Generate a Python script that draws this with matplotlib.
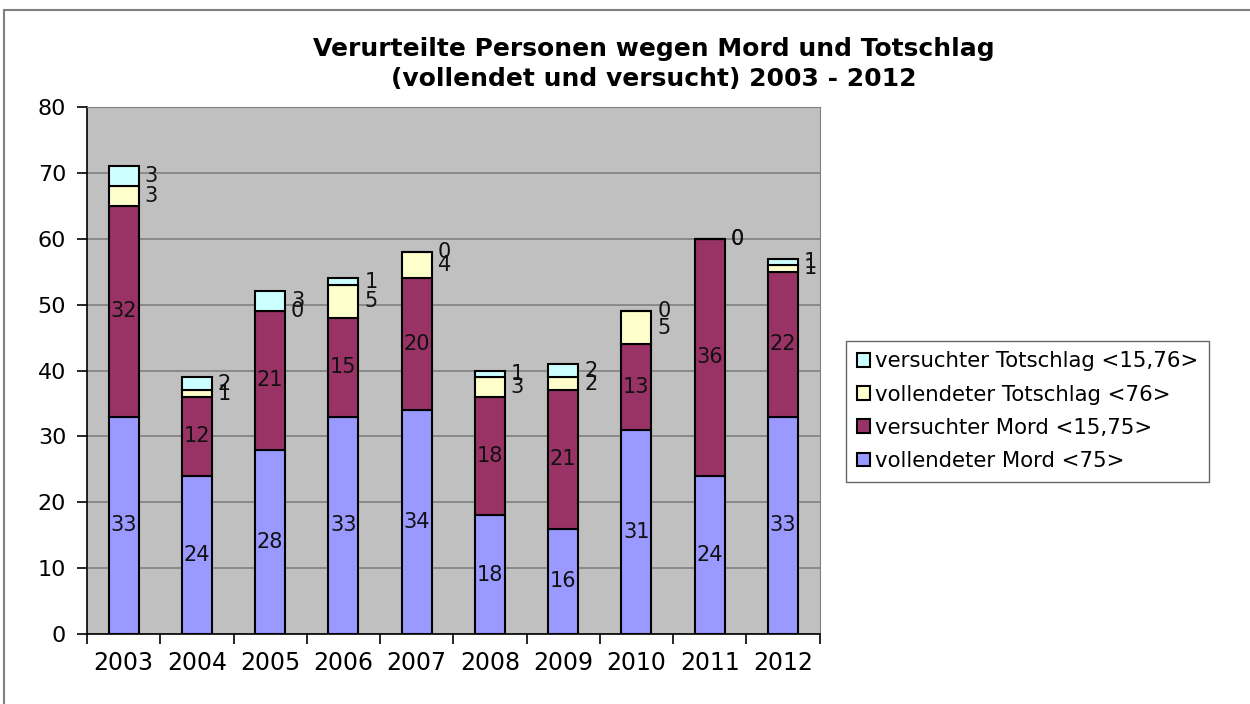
import numpy as np
import matplotlib
matplotlib.use("Agg")
import matplotlib.pyplot as plt
from matplotlib.patches import Rectangle

plt.rcParams['font.family'] = ['DejaVu Sans']

years = ['2003', '2004', '2005', '2006', '2007', '2008', '2009', '2010', '2011', '2012']
vollendeter_mord = [33, 24, 28, 33, 34, 18, 16, 31, 24, 33]
versuchter_mord = [32, 12, 21, 15, 20, 18, 21, 13, 36, 22]
vollendeter_totschlag = [3, 1, 0, 5, 4, 3, 2, 5, 0, 1]
versuchter_totschlag = [3, 2, 3, 1, 0, 1, 2, 0, 0, 1]

series = [
    (vollendeter_mord, 'vollendeter Mord <75>', '#9999FF'),
    (versuchter_mord, 'versuchter Mord <15,75>', '#993366'),
    (vollendeter_totschlag, 'vollendeter Totschlag <76>', '#FFFFCC'),
    (versuchter_totschlag, 'versuchter Totschlag <15,76>', '#CCFFFF'),
]

fig = plt.figure(figsize=(12.5, 7.04), dpi=100, facecolor='white')
ax = fig.add_axes([0.0696, 0.0994, 0.586, 0.7486])
ax.set_facecolor('#C0C0C0')

x = np.arange(len(years))
width = 0.41
bottom = np.zeros(len(years))
handles = []
for i, (vals, label, color) in enumerate(series):
    vals = np.array(vals, dtype=float)
    bars = ax.bar(x, vals, width, bottom=bottom, color=color, edgecolor='black',
                  linewidth=1.5, label=label, zorder=3)
    handles.append(bars)
    # lower two segments labelled inside, upper two to the right of the bar
    for xi, b, v in zip(x, bottom, vals):
        if i < 2:
            ax.text(xi, b + v / 2, '%d' % v, ha='center', va='center',
                    fontsize=15, color='#111111', zorder=4)
        else:
            ax.text(xi + width / 2 + 0.08, b + v / 2, '%d' % v, ha='left',
                    va='center', fontsize=15, color='#111111', zorder=4)
    bottom = bottom + vals

ax.set_xlim(-0.5, len(years) - 0.5)
ax.set_ylim(0, 80)
ax.set_yticks(np.arange(0, 81, 10))
ax.yaxis.grid(True, color='#808080', linewidth=1.2, zorder=0)
ax.set_axisbelow(True)

ax.set_xticks(x)
ax.set_xticklabels(years)
ax.set_xticks(np.arange(-0.5, len(years), 1.0), minor=True)
ax.tick_params(axis='x', which='major', length=0, labelsize=17, pad=12)
ax.tick_params(axis='x', which='minor', length=7, width=1.2, direction='out')
ax.tick_params(axis='y', length=7, width=1.2, direction='out', labelsize=16, pad=8)

ax.spines['top'].set_color('#808080')
ax.spines['right'].set_color('#808080')
ax.spines['left'].set_linewidth(1.2)
ax.spines['bottom'].set_linewidth(1.2)

fig.text(0.523, 0.93, 'Verurteilte Personen wegen Mord und Totschlag',
         ha='center', va='center', fontsize=18, fontweight='bold')
fig.text(0.523, 0.888, '(vollendet und versucht) 2003 - 2012',
         ha='center', va='center', fontsize=18, fontweight='bold')

leg = fig.legend(handles[::-1], [s[1] for s in series][::-1],
                 loc='center left', bbox_to_anchor=(0.677, 0.416),
                 fontsize=15.3, frameon=True, fancybox=False, edgecolor='#404040',
                 handlelength=0.6, handleheight=0.6, handletextpad=0.25,
                 labelspacing=0.62, borderpad=0.5, borderaxespad=0)
leg.get_frame().set_linewidth(1.0)

fig.patches.append(Rectangle((0.003, -0.01), 1.1, 0.996, transform=fig.transFigure,
                             fill=False, edgecolor='#808080', linewidth=1.5))

plt.savefig('out.png', dpi=100, facecolor='white')
plt.close('all')
